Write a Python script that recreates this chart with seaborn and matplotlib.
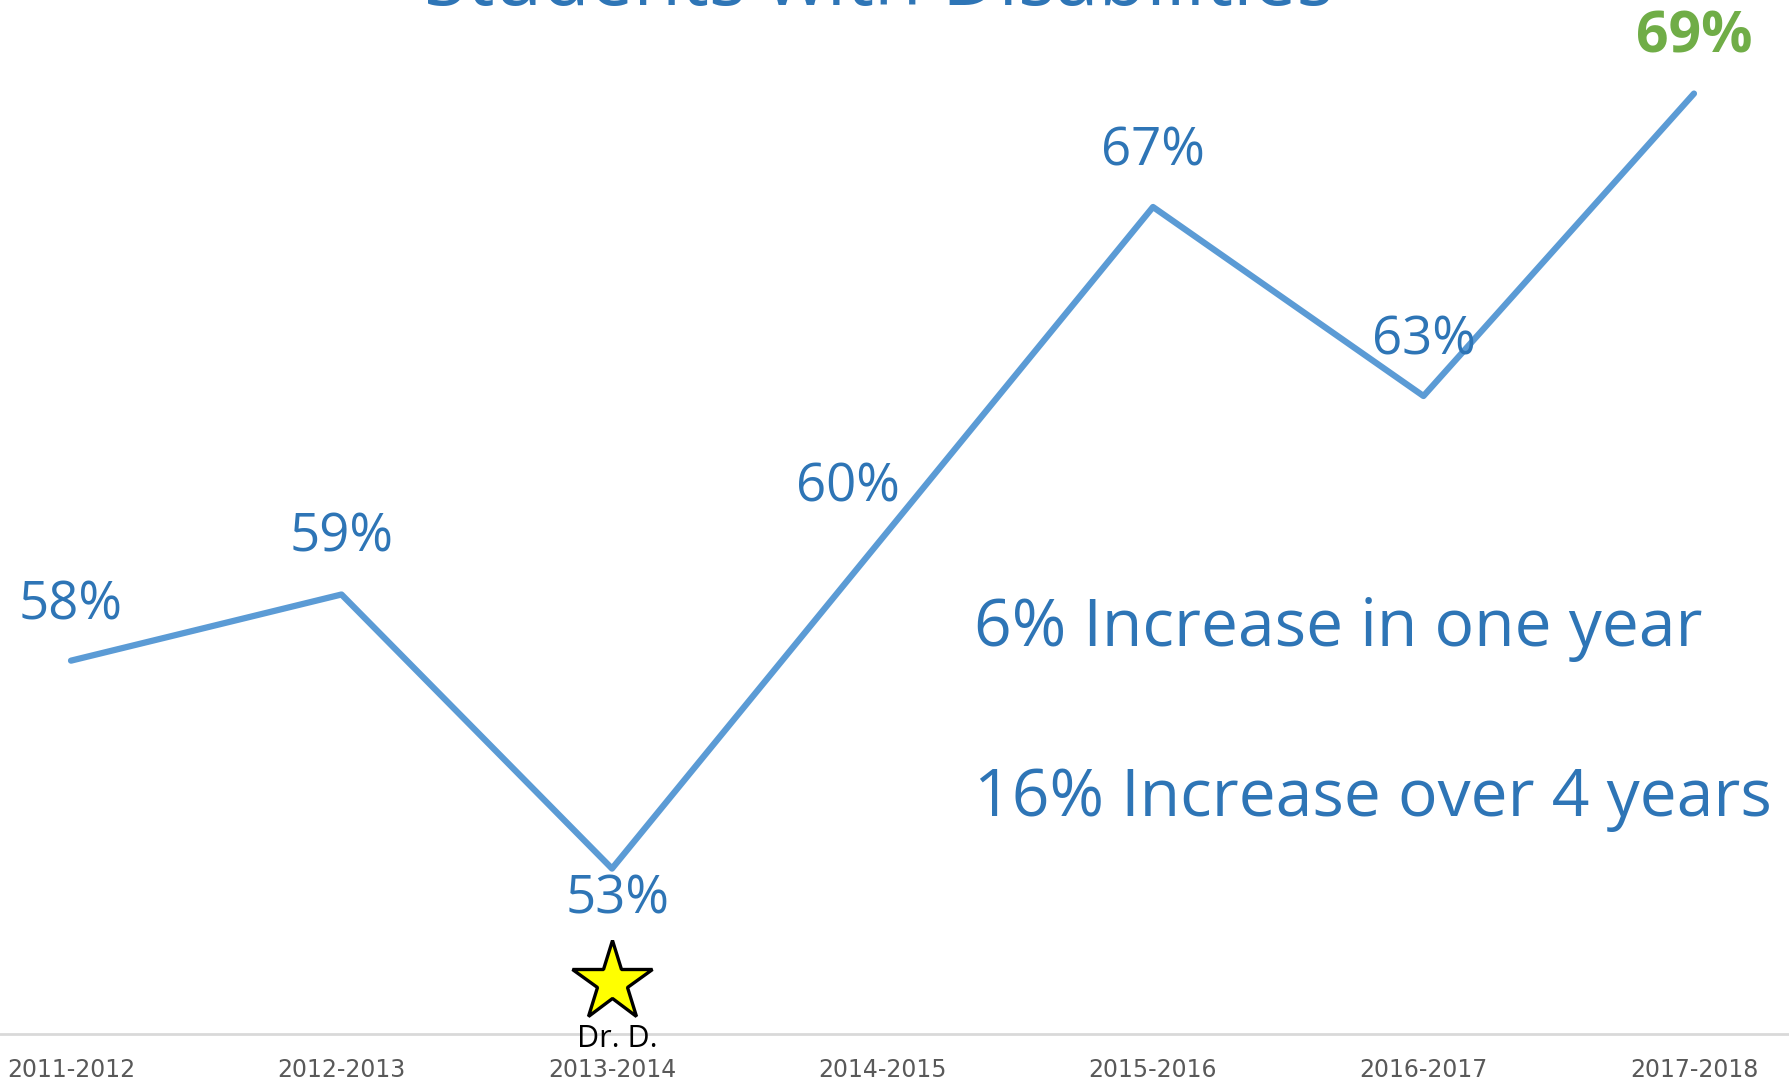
import numpy as np
import pandas as pd
import matplotlib
matplotlib.use("Agg")
import matplotlib.pyplot as plt
import seaborn as sns

# chart data
years = ["2011-2012", "2012-2013", "2013-2014", "2014-2015", "2015-2016", "2016-2017", "2017-2018"]
rates = [57.4, 58.8, 53.0, 60.0, 67.0, 63.0, 69.4]
labels = ["58%", "59%", "53%", "60%", "67%", "63%", "69%"]
notes = ["6% Increase in one year", "16% Increase over 4 years"]
title = "Students with Disabilities"

blue_line = "#5B9BD5"
blue_text = "#2E75B6"
green = "#70AD47"

sns.set_theme(style="white")
plt.rcParams["font.family"] = ["Open Sans", "DejaVu Sans"]

df = pd.DataFrame({"year": years, "rate": rates})

fig = plt.figure(figsize=(17.9, 10.81), dpi=100)
ax = fig.add_axes([0, 0.0435, 1, 0.9565])

sns.lineplot(data=df, x="year", y="rate", sort=False, color=blue_line, linewidth=4.5, ax=ax)
ax.set_xlim(-0.2625, 6.355)
ax.set_ylim(49.5, 71.38)

# data labels, offsets in pixels
offsets = [(0, 55), (0, 57), (6, -31), (-35, 50), (0, 55), (0, 55), (0, 56)]
for i, (lab, off) in enumerate(zip(labels, offsets)):
    last = i == len(labels) - 1
    ax.annotate(lab, (i, rates[i]), xytext=off, textcoords="offset pixels",
                ha="center", va="center", fontsize=41 if last else 38,
                color=green if last else blue_text,
                fontweight="bold" if last else "normal")

# the star for Dr. D.
ax.plot([2], [50.6], marker="*", markersize=60, markerfacecolor="#FFFF00",
        markeredgecolor="black", markeredgewidth=2.4, clip_on=False)
ax.text(2.02, 49.4, "Dr. D.", ha="center", va="center", fontsize=22, color="black")

ax.text(3.338, 58.07, notes[0], ha="left", va="center", fontsize=47.5, color=blue_text)
ax.text(3.338, 54.47, notes[1], ha="left", va="center", fontsize=47.5, color=blue_text)

fig.text(0.491, 0.9954, title, ha="center", va="baseline", fontsize=56, color=blue_text)

# axes styling
for s in ["left", "right", "top"]:
    ax.spines[s].set_visible(False)
ax.spines["bottom"].set_color("#D9D9D9")
ax.spines["bottom"].set_linewidth(2)
ax.set_yticks([])
ax.set_xlabel("")
ax.set_ylabel("")
ax.tick_params(axis="x", length=0, pad=17, labelsize=17, labelcolor="#595959")
for t in ax.get_xticklabels():
    t.set_fontfamily(["Liberation Sans Narrow", "DejaVu Sans"])

fig.savefig("out.png", dpi=100)
